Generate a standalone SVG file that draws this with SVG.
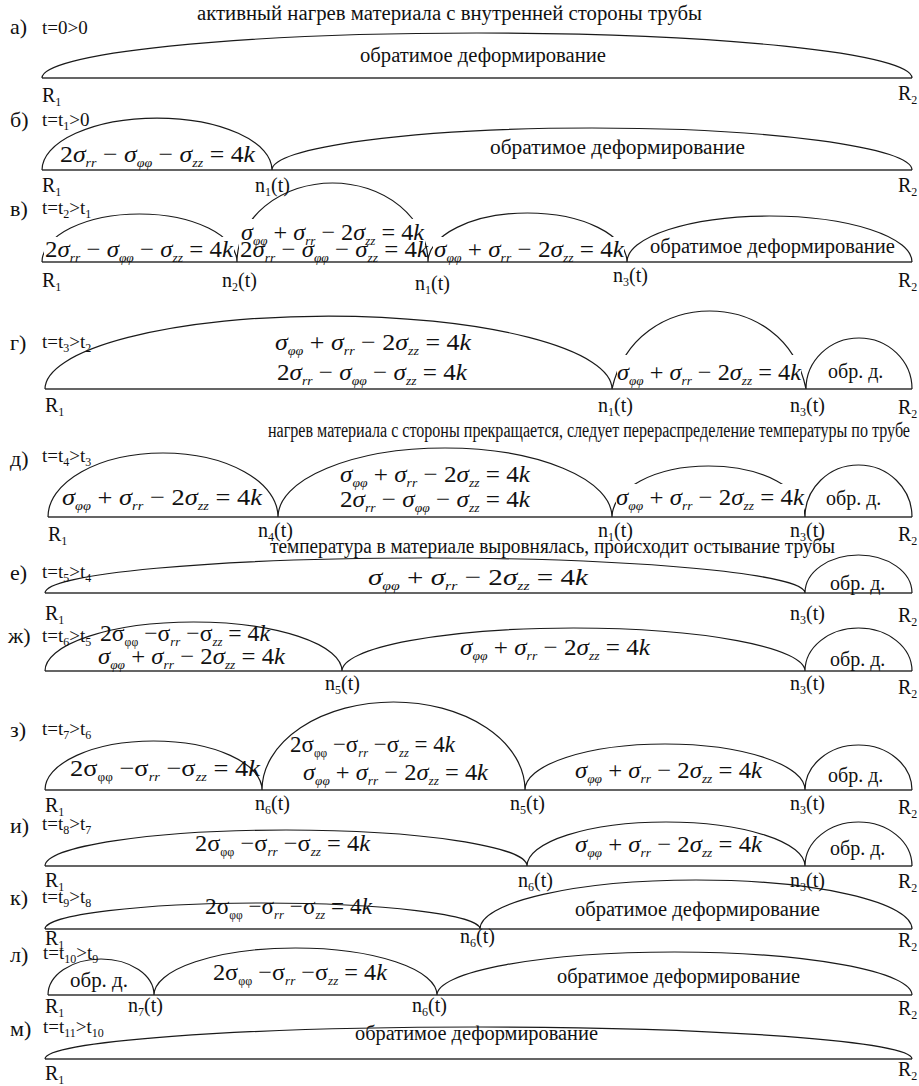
<svg xmlns="http://www.w3.org/2000/svg" width="919" height="1086" viewBox="0 0 919 1086" font-family="'Liberation Serif', 'Times New Roman', serif">
<style>
.ln{fill:none;stroke:#1a1a1a;stroke-width:1.2}
.bl{stroke:#333;stroke-width:1.6}
.bg{fill:#fff}
text{fill:#111;font-family:'Liberation Serif','Times New Roman',serif}
.lb{font-size:20px}
.hd{font-size:22px}
.tl{font-size:19px}
.eq{font-size:24px}
.i{font-style:italic}
.sb{font-size:13px;font-style:italic}
.su{font-size:12px;font-style:normal}
</style>
<rect width="919" height="1086" fill="#fff"/>

<g id="connectors">
<path class="bl" d="M42 78H912M42 170H912M42 262H912M45 389H912M48 517H912M45 593H912M45 671H912M45 790H912M45 866H912M45 929H912M48 995H912M45 1059H912"/>
<path class="ln" d="M42 78A435 45 0 0 1 912 78"/>
<path class="ln" d="M42 170A115 52 0 0 1 272 170M272 170A320 42 0 0 1 912 170"/>
<path class="ln" d="M42 262A97.5 48 0 0 1 237 262M237 262A95.5 79 0 0 1 428 262M428 262A99.5 49 0 0 1 627 262M627 262A142.5 46 0 0 1 912 262"/>
<path class="ln" d="M45 389A283.5 73 0 0 1 612 389M612 389C635 285 785 285 806 389M806 389A53 51 0 0 1 912 389"/>
<path class="ln" d="M48 517A115 64 0 0 1 278 517M278 517A167 69 0 0 1 612 517M612 517A96.5 51 0 0 1 805 517M805 517A53.5 52 0 0 1 912 517"/>
<path class="ln" d="M45 593A380 35 0 0 1 805 593M805 593A53.5 38 0 0 1 912 593"/>
<path class="ln" d="M45 671A148.5 49 0 0 1 342 671M342 671A231.5 43 0 0 1 805 671M805 671A53.5 43 0 0 1 912 671"/>
<path class="ln" d="M45 790A108.5 49 0 0 1 262 790M262 790A131.5 88 0 0 1 525 790M525 790A140 46 0 0 1 805 790M805 790A53.5 45 0 0 1 912 790"/>
<path class="ln" d="M45 866A241 36 0 0 1 527 866M527 866A139 44 0 0 1 805 866M805 866A53.5 44 0 0 1 912 866"/>
<path class="ln" d="M45 929A217.5 26 0 0 1 480 929M480 929A216 49 0 0 1 912 929"/>
<path class="ln" d="M48 995A53 36 0 0 1 154 995M154 995A141.5 47 0 0 1 437 995M437 995A237.5 43 0 0 1 912 995"/>
<path class="ln" d="M45 1059A433.5 32 0 0 1 912 1059"/>
</g>

<g id="panel-a">
<text class="lb" x="197" y="20" textLength="505" lengthAdjust="spacingAndGlyphs">активный нагрев материала с внутренней стороны трубы</text>
<text class="hd" x="10" y="34">а)</text><text class="tl" x="42" y="34">t=0&gt;0</text>
<text class="lb" x="360" y="62" textLength="246" lengthAdjust="spacingAndGlyphs">обратимое деформирование</text>
<text class="lb" x="42" y="102">R<tspan class="su" dy="4">1</tspan></text>
<text class="lb" x="898" y="100">R<tspan class="su" dy="4">2</tspan></text>
</g>

<g id="panel-b">
<text class="hd" x="10" y="127">б)</text><text class="tl" x="42" y="126">t=t<tspan class="su" dy="4">1</tspan><tspan dy="-4">&gt;0</tspan></text>
<text class="eq" x="60" y="162" textLength="195" lengthAdjust="spacingAndGlyphs">2<tspan class="i">σ</tspan><tspan class="sb" dy="5">rr</tspan><tspan dy="-5"> − </tspan><tspan class="i">σ</tspan><tspan class="sb" dy="5">φφ</tspan><tspan dy="-5"> − </tspan><tspan class="i">σ</tspan><tspan class="sb" dy="5">zz</tspan><tspan dy="-5"> = 4</tspan><tspan class="i">k</tspan></text>
<text class="lb" x="490" y="154" textLength="255" lengthAdjust="spacingAndGlyphs">обратимое деформирование</text>
<text class="lb" x="42" y="192">R<tspan class="su" dy="4">1</tspan></text>
<text class="lb" x="255" y="192">n<tspan class="su" dy="4">1</tspan><tspan dy="-4">(t)</tspan></text>
<text class="lb" x="898" y="192">R<tspan class="su" dy="4">2</tspan></text>
</g>

<g id="panel-v">
<text class="hd" x="10" y="216">в)</text><text class="tl" x="42" y="214">t=t<tspan class="su" dy="4">2</tspan><tspan dy="-4">&gt;t</tspan><tspan class="su" dy="4">1</tspan></text>
<rect class="bg" x="44" y="237" width="190" height="24"/>
<rect class="bg" x="239" y="219" width="186" height="42"/>
<rect class="bg" x="433" y="237" width="191" height="24"/>
<text class="eq" x="241" y="240" textLength="183" lengthAdjust="spacingAndGlyphs"><tspan class="i">σ</tspan><tspan class="sb" dy="5">φφ</tspan><tspan dy="-5"> + </tspan><tspan class="i">σ</tspan><tspan class="sb" dy="5">rr</tspan><tspan dy="-5"> − 2</tspan><tspan class="i">σ</tspan><tspan class="sb" dy="5">zz</tspan><tspan dy="-5"> = 4</tspan><tspan class="i">k</tspan></text>
<text class="eq" x="45" y="257" textLength="188" lengthAdjust="spacingAndGlyphs">2<tspan class="i">σ</tspan><tspan class="sb" dy="5">rr</tspan><tspan dy="-5"> − </tspan><tspan class="i">σ</tspan><tspan class="sb" dy="5">φφ</tspan><tspan dy="-5"> − </tspan><tspan class="i">σ</tspan><tspan class="sb" dy="5">zz</tspan><tspan dy="-5"> = 4</tspan><tspan class="i">k</tspan></text>
<text class="eq" x="240" y="257" textLength="188" lengthAdjust="spacingAndGlyphs">2<tspan class="i">σ</tspan><tspan class="sb" dy="5">rr</tspan><tspan dy="-5"> − </tspan><tspan class="i">σ</tspan><tspan class="sb" dy="5">φφ</tspan><tspan dy="-5"> − </tspan><tspan class="i">σ</tspan><tspan class="sb" dy="5">zz</tspan><tspan dy="-5"> = 4</tspan><tspan class="i">k</tspan></text>
<text class="eq" x="434" y="257" textLength="190" lengthAdjust="spacingAndGlyphs"><tspan class="i">σ</tspan><tspan class="sb" dy="5">φφ</tspan><tspan dy="-5"> + </tspan><tspan class="i">σ</tspan><tspan class="sb" dy="5">rr</tspan><tspan dy="-5"> − 2</tspan><tspan class="i">σ</tspan><tspan class="sb" dy="5">zz</tspan><tspan dy="-5"> = 4</tspan><tspan class="i">k</tspan></text>
<text class="lb" x="650" y="253" textLength="245" lengthAdjust="spacingAndGlyphs">обратимое деформирование</text>
<text class="lb" x="42" y="287">R<tspan class="su" dy="4">1</tspan></text>
<text class="lb" x="222" y="287">n<tspan class="su" dy="4">2</tspan><tspan dy="-4">(t)</tspan></text>
<text class="lb" x="415" y="290">n<tspan class="su" dy="4">1</tspan><tspan dy="-4">(t)</tspan></text>
<text class="lb" x="613" y="282">n<tspan class="su" dy="4">3</tspan><tspan dy="-4">(t)</tspan></text>
<text class="lb" x="898" y="287">R<tspan class="su" dy="4">2</tspan></text>
</g>

<g id="panel-g">
<text class="hd" x="10" y="350">г)</text><text class="tl" x="42" y="348">t=t<tspan class="su" dy="4">3</tspan><tspan dy="-4">&gt;t</tspan><tspan class="su" dy="4">2</tspan></text>
<text class="eq" x="275" y="350" textLength="196" lengthAdjust="spacingAndGlyphs"><tspan class="i">σ</tspan><tspan class="sb" dy="5">φφ</tspan><tspan dy="-5"> + </tspan><tspan class="i">σ</tspan><tspan class="sb" dy="5">rr</tspan><tspan dy="-5"> − 2</tspan><tspan class="i">σ</tspan><tspan class="sb" dy="5">zz</tspan><tspan dy="-5"> = 4</tspan><tspan class="i">k</tspan></text>
<text class="eq" x="277" y="380" textLength="190" lengthAdjust="spacingAndGlyphs">2<tspan class="i">σ</tspan><tspan class="sb" dy="5">rr</tspan><tspan dy="-5"> − </tspan><tspan class="i">σ</tspan><tspan class="sb" dy="5">φφ</tspan><tspan dy="-5"> − </tspan><tspan class="i">σ</tspan><tspan class="sb" dy="5">zz</tspan><tspan dy="-5"> = 4</tspan><tspan class="i">k</tspan></text>
<rect class="bg" x="617" y="355" width="184" height="33"/>
<text class="eq" x="617" y="380" textLength="184" lengthAdjust="spacingAndGlyphs"><tspan class="i">σ</tspan><tspan class="sb" dy="5">φφ</tspan><tspan dy="-5"> + </tspan><tspan class="i">σ</tspan><tspan class="sb" dy="5">rr</tspan><tspan dy="-5"> − 2</tspan><tspan class="i">σ</tspan><tspan class="sb" dy="5">zz</tspan><tspan dy="-5"> = 4</tspan><tspan class="i">k</tspan></text>
<text class="lb" x="828" y="378">обр. д.</text>
<text class="lb" x="45" y="412">R<tspan class="su" dy="4">1</tspan></text>
<text class="lb" x="598" y="412">n<tspan class="su" dy="4">1</tspan><tspan dy="-4">(t)</tspan></text>
<text class="lb" x="790" y="412">n<tspan class="su" dy="4">3</tspan><tspan dy="-4">(t)</tspan></text>
<text class="lb" x="898" y="414">R<tspan class="su" dy="4">2</tspan></text>
</g>

<g id="panel-d">
<text class="lb" x="268" y="437" textLength="642" lengthAdjust="spacingAndGlyphs">нагрев материала с стороны прекращается, следует перераспределение температуры по трубе</text>
<text class="hd" x="10" y="466">д)</text><text class="tl" x="42" y="462">t=t<tspan class="su" dy="4">4</tspan><tspan dy="-4">&gt;t</tspan><tspan class="su" dy="4">3</tspan></text>
<text class="eq" x="62" y="505" textLength="200" lengthAdjust="spacingAndGlyphs"><tspan class="i">σ</tspan><tspan class="sb" dy="5">φφ</tspan><tspan dy="-5"> + </tspan><tspan class="i">σ</tspan><tspan class="sb" dy="5">rr</tspan><tspan dy="-5"> − 2</tspan><tspan class="i">σ</tspan><tspan class="sb" dy="5">zz</tspan><tspan dy="-5"> = 4</tspan><tspan class="i">k</tspan></text>
<text class="eq" x="340" y="482" textLength="190" lengthAdjust="spacingAndGlyphs"><tspan class="i">σ</tspan><tspan class="sb" dy="5">φφ</tspan><tspan dy="-5"> + </tspan><tspan class="i">σ</tspan><tspan class="sb" dy="5">rr</tspan><tspan dy="-5"> − 2</tspan><tspan class="i">σ</tspan><tspan class="sb" dy="5">zz</tspan><tspan dy="-5"> = 4</tspan><tspan class="i">k</tspan></text>
<text class="eq" x="340" y="507" textLength="190" lengthAdjust="spacingAndGlyphs">2<tspan class="i">σ</tspan><tspan class="sb" dy="5">rr</tspan><tspan dy="-5"> − </tspan><tspan class="i">σ</tspan><tspan class="sb" dy="5">φφ</tspan><tspan dy="-5"> − </tspan><tspan class="i">σ</tspan><tspan class="sb" dy="5">zz</tspan><tspan dy="-5"> = 4</tspan><tspan class="i">k</tspan></text>
<rect class="bg" x="616" y="484" width="188" height="32"/>
<text class="eq" x="616" y="505" textLength="188" lengthAdjust="spacingAndGlyphs"><tspan class="i">σ</tspan><tspan class="sb" dy="5">φφ</tspan><tspan dy="-5"> + </tspan><tspan class="i">σ</tspan><tspan class="sb" dy="5">rr</tspan><tspan dy="-5"> − 2</tspan><tspan class="i">σ</tspan><tspan class="sb" dy="5">zz</tspan><tspan dy="-5"> = 4</tspan><tspan class="i">k</tspan></text>
<text class="lb" x="826" y="505">обр. д.</text>
<text class="lb" x="48" y="541">R<tspan class="su" dy="4">1</tspan></text>
<text class="lb" x="258" y="537">n<tspan class="su" dy="4">4</tspan><tspan dy="-4">(t)</tspan></text>
<text class="lb" x="598" y="537">n<tspan class="su" dy="4">1</tspan><tspan dy="-4">(t)</tspan></text>
<text class="lb" x="790" y="537">n<tspan class="su" dy="4">3</tspan><tspan dy="-4">(t)</tspan></text>
<text class="lb" x="898" y="541">R<tspan class="su" dy="4">2</tspan></text>
</g>

<g id="panel-e">
<text class="lb" x="270" y="553" textLength="565" lengthAdjust="spacingAndGlyphs">температура в материале выровнялась, происходит остывание трубы</text>
<text class="hd" x="10" y="580">е)</text><text class="tl" x="42" y="578">t=t<tspan class="su" dy="4">5</tspan><tspan dy="-4">&gt;t</tspan><tspan class="su" dy="4">4</tspan></text>
<text class="eq" x="368" y="585" textLength="220" lengthAdjust="spacingAndGlyphs"><tspan class="i">σ</tspan><tspan class="sb" dy="5">φφ</tspan><tspan dy="-5"> + </tspan><tspan class="i">σ</tspan><tspan class="sb" dy="5">rr</tspan><tspan dy="-5"> − 2</tspan><tspan class="i">σ</tspan><tspan class="sb" dy="5">zz</tspan><tspan dy="-5"> = 4</tspan><tspan class="i">k</tspan></text>
<text class="lb" x="830" y="590">обр. д.</text>
<text class="lb" x="45" y="620">R<tspan class="su" dy="4">1</tspan></text>
<text class="lb" x="790" y="620">n<tspan class="su" dy="4">3</tspan><tspan dy="-4">(t)</tspan></text>
<text class="lb" x="898" y="622">R<tspan class="su" dy="4">2</tspan></text>
</g>

<g id="panel-zh">
<text class="hd" x="8" y="643">ж)</text><text class="tl" x="42" y="642">t=t<tspan class="su" dy="4">6</tspan><tspan dy="-4">&gt;t</tspan><tspan class="su" dy="4">5</tspan></text>
<text class="eq" x="100" y="641" textLength="170" lengthAdjust="spacingAndGlyphs">2σ<tspan class="su" dy="5">φφ</tspan><tspan dy="-5"> −σ</tspan><tspan class="sb" dy="5">rr</tspan><tspan dy="-5"> −σ</tspan><tspan class="sb" dy="5">zz</tspan><tspan dy="-5"> = 4</tspan><tspan class="i">k</tspan></text>
<text class="eq" x="98" y="664" textLength="187" lengthAdjust="spacingAndGlyphs"><tspan class="i">σ</tspan><tspan class="sb" dy="5">φφ</tspan><tspan dy="-5"> + </tspan><tspan class="i">σ</tspan><tspan class="sb" dy="5">rr</tspan><tspan dy="-5"> − 2</tspan><tspan class="i">σ</tspan><tspan class="sb" dy="5">zz</tspan><tspan dy="-5"> = 4</tspan><tspan class="i">k</tspan></text>
<text class="eq" x="460" y="655" textLength="190" lengthAdjust="spacingAndGlyphs"><tspan class="i">σ</tspan><tspan class="sb" dy="5">φφ</tspan><tspan dy="-5"> + </tspan><tspan class="i">σ</tspan><tspan class="sb" dy="5">rr</tspan><tspan dy="-5"> − 2</tspan><tspan class="i">σ</tspan><tspan class="sb" dy="5">zz</tspan><tspan dy="-5"> = 4</tspan><tspan class="i">k</tspan></text>
<text class="lb" x="830" y="666">обр. д.</text>
<text class="lb" x="325" y="690">n<tspan class="su" dy="4">5</tspan><tspan dy="-4">(t)</tspan></text>
<text class="lb" x="790" y="690">n<tspan class="su" dy="4">3</tspan><tspan dy="-4">(t)</tspan></text>
<text class="lb" x="898" y="694">R<tspan class="su" dy="4">2</tspan></text>
</g>

<g id="panel-z">
<text class="hd" x="10" y="737">з)</text><text class="tl" x="42" y="735">t=t<tspan class="su" dy="4">7</tspan><tspan dy="-4">&gt;t</tspan><tspan class="su" dy="4">6</tspan></text>
<text class="eq" x="70" y="776" textLength="190" lengthAdjust="spacingAndGlyphs">2σ<tspan class="su" dy="5">φφ</tspan><tspan dy="-5"> −σ</tspan><tspan class="sb" dy="5">rr</tspan><tspan dy="-5"> −σ</tspan><tspan class="sb" dy="5">zz</tspan><tspan dy="-5"> = 4</tspan><tspan class="i">k</tspan></text>
<text class="eq" x="290" y="752" textLength="165" lengthAdjust="spacingAndGlyphs">2σ<tspan class="su" dy="5">φφ</tspan><tspan dy="-5"> −σ</tspan><tspan class="sb" dy="5">rr</tspan><tspan dy="-5"> −σ</tspan><tspan class="sb" dy="5">zz</tspan><tspan dy="-5"> = 4</tspan><tspan class="i">k</tspan></text>
<text class="eq" x="303" y="780" textLength="185" lengthAdjust="spacingAndGlyphs"><tspan class="i">σ</tspan><tspan class="sb" dy="5">φφ</tspan><tspan dy="-5"> + </tspan><tspan class="i">σ</tspan><tspan class="sb" dy="5">rr</tspan><tspan dy="-5"> − 2</tspan><tspan class="i">σ</tspan><tspan class="sb" dy="5">zz</tspan><tspan dy="-5"> = 4</tspan><tspan class="i">k</tspan></text>
<text class="eq" x="575" y="778" textLength="187" lengthAdjust="spacingAndGlyphs"><tspan class="i">σ</tspan><tspan class="sb" dy="5">φφ</tspan><tspan dy="-5"> + </tspan><tspan class="i">σ</tspan><tspan class="sb" dy="5">rr</tspan><tspan dy="-5"> − 2</tspan><tspan class="i">σ</tspan><tspan class="sb" dy="5">zz</tspan><tspan dy="-5"> = 4</tspan><tspan class="i">k</tspan></text>
<text class="lb" x="828" y="782">обр. д.</text>
<text class="lb" x="45" y="812">R<tspan class="su" dy="4">1</tspan></text>
<text class="lb" x="255" y="810">n<tspan class="su" dy="4">6</tspan><tspan dy="-4">(t)</tspan></text>
<text class="lb" x="510" y="810">n<tspan class="su" dy="4">5</tspan><tspan dy="-4">(t)</tspan></text>
<text class="lb" x="790" y="810">n<tspan class="su" dy="4">3</tspan><tspan dy="-4">(t)</tspan></text>
<text class="lb" x="898" y="814">R<tspan class="su" dy="4">2</tspan></text>
</g>

<g id="panel-i">
<text class="hd" x="10" y="833">и)</text><text class="tl" x="42" y="830">t=t<tspan class="su" dy="4">8</tspan><tspan dy="-4">&gt;t</tspan><tspan class="su" dy="4">7</tspan></text>
<text class="eq" x="195" y="851" textLength="175" lengthAdjust="spacingAndGlyphs">2σ<tspan class="su" dy="5">φφ</tspan><tspan dy="-5"> −σ</tspan><tspan class="sb" dy="5">rr</tspan><tspan dy="-5"> −σ</tspan><tspan class="sb" dy="5">zz</tspan><tspan dy="-5"> = 4</tspan><tspan class="i">k</tspan></text>
<text class="eq" x="575" y="852" textLength="187" lengthAdjust="spacingAndGlyphs"><tspan class="i">σ</tspan><tspan class="sb" dy="5">φφ</tspan><tspan dy="-5"> + </tspan><tspan class="i">σ</tspan><tspan class="sb" dy="5">rr</tspan><tspan dy="-5"> − 2</tspan><tspan class="i">σ</tspan><tspan class="sb" dy="5">zz</tspan><tspan dy="-5"> = 4</tspan><tspan class="i">k</tspan></text>
<text class="lb" x="830" y="855">обр. д.</text>
<text class="lb" x="45" y="887">R<tspan class="su" dy="4">1</tspan></text>
<text class="lb" x="518" y="887">n<tspan class="su" dy="4">6</tspan><tspan dy="-4">(t)</tspan></text>
<text class="lb" x="790" y="887">n<tspan class="su" dy="4">3</tspan><tspan dy="-4">(t)</tspan></text>
<text class="lb" x="898" y="888">R<tspan class="su" dy="4">2</tspan></text>
</g>

<g id="panel-k">
<text class="hd" x="10" y="905">к)</text><text class="tl" x="42" y="903">t=t<tspan class="su" dy="4">9</tspan><tspan dy="-4">&gt;t</tspan><tspan class="su" dy="4">8</tspan></text>
<text class="eq" x="205" y="914" textLength="167" lengthAdjust="spacingAndGlyphs">2σ<tspan class="su" dy="5">φφ</tspan><tspan dy="-5"> −σ</tspan><tspan class="sb" dy="5">rr</tspan><tspan dy="-5"> −σ</tspan><tspan class="sb" dy="5">zz</tspan><tspan dy="-5"> = 4</tspan><tspan class="i">k</tspan></text>
<text class="lb" x="575" y="916" textLength="245" lengthAdjust="spacingAndGlyphs">обратимое деформирование</text>
<text class="lb" x="45" y="945">R<tspan class="su" dy="4">1</tspan></text>
<text class="lb" x="460" y="943">n<tspan class="su" dy="4">6</tspan><tspan dy="-4">(t)</tspan></text>
<text class="lb" x="898" y="947">R<tspan class="su" dy="4">2</tspan></text>
</g>

<g id="panel-l">
<text class="hd" x="10" y="962">л)</text><text class="tl" x="43" y="959">t=t<tspan class="su" dy="4">10</tspan><tspan dy="-4">&gt;t</tspan><tspan class="su" dy="4">9</tspan></text>
<text class="lb" x="70" y="987" textLength="58" lengthAdjust="spacingAndGlyphs">обр. д.</text>
<text class="eq" x="213" y="980" textLength="174" lengthAdjust="spacingAndGlyphs">2σ<tspan class="su" dy="5">φφ</tspan><tspan dy="-5"> −σ</tspan><tspan class="sb" dy="5">rr</tspan><tspan dy="-5"> −σ</tspan><tspan class="sb" dy="5">zz</tspan><tspan dy="-5"> = 4</tspan><tspan class="i">k</tspan></text>
<text class="lb" x="557" y="983" textLength="243" lengthAdjust="spacingAndGlyphs">обратимое деформирование</text>
<text class="lb" x="45" y="1013">R<tspan class="su" dy="4">1</tspan></text>
<text class="lb" x="128" y="1012">n<tspan class="su" dy="4">7</tspan><tspan dy="-4">(t)</tspan></text>
<text class="lb" x="412" y="1012">n<tspan class="su" dy="4">6</tspan><tspan dy="-4">(t)</tspan></text>
<text class="lb" x="898" y="1015">R<tspan class="su" dy="4">2</tspan></text>
</g>

<g id="panel-m">
<text class="hd" x="10" y="1036">м)</text><text class="tl" x="43" y="1033">t=t<tspan class="su" dy="4">11</tspan><tspan dy="-4">&gt;t</tspan><tspan class="su" dy="4">10</tspan></text>
<text class="lb" x="355" y="1040" textLength="243" lengthAdjust="spacingAndGlyphs">обратимое деформирование</text>
<text class="lb" x="45" y="1080">R<tspan class="su" dy="4">1</tspan></text>
<text class="lb" x="898" y="1076">R<tspan class="su" dy="4">2</tspan></text>
</g>
</svg>
